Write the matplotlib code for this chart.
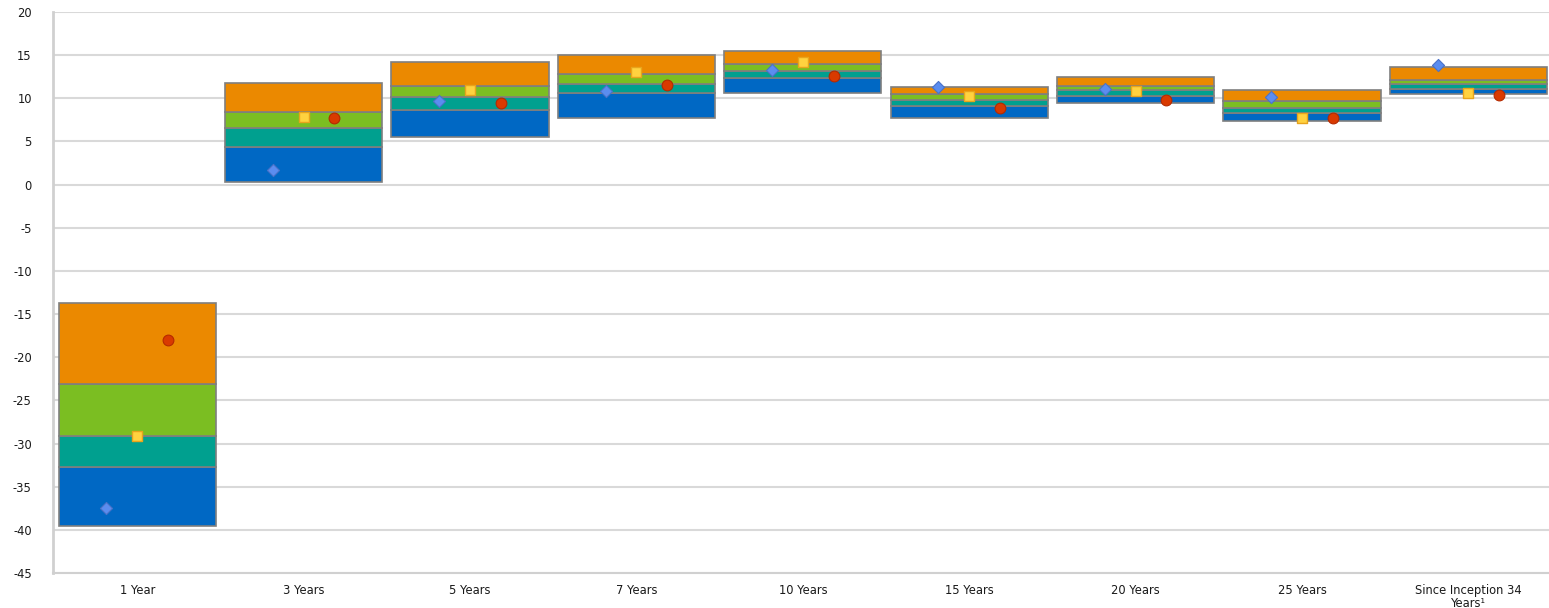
import numpy as np
from matplotlib import pyplot as plt

categories = ['1 Year', '3 Years', '5 Years', '7 Years', '10 Years',
              '15 Years', '20 Years', '25 Years', 'Since Inception 34\nYears\u00b9']

# quartile boundaries (bottom -> top)
q_bottom = [-39.6, 0.3, 5.55, 7.75, 10.6, 7.75, 9.4, 7.35, 10.45]
q_low = [-32.7, 4.4, 8.6, 10.6, 12.4, 9.1, 10.3, 8.25, 11.1]
q_mid = [-29.1, 6.5, 10.2, 11.7, 13.2, 9.8, 10.95, 8.9, 11.7]
q_high = [-23.1, 8.4, 11.4, 12.8, 14.0, 10.45, 11.4, 9.7, 12.1]
q_top = [-13.7, 11.8, 14.25, 15.0, 15.5, 11.35, 12.45, 10.95, 13.6]

# markers
diamond_vals = [-37.5, 1.7, 9.7, 10.9, 13.3, 11.3, 11.05, 10.2, 13.85]
square_vals = [-29.1, 7.8, 11.0, 13.0, 14.2, 10.3, 10.8, 7.7, 10.6]
circle_vals = [-18.0, 7.7, 9.45, 11.5, 12.6, 8.85, 9.8, 7.7, 10.4]

seg_colors = ['#0068C4', '#00A08F', '#7BBE22', '#EB8900']

plt.rcParams['font.family'] = ['DejaVu Sans']
plt.rcParams['axes.unicode_minus'] = False

fig = plt.figure(figsize=(15.49, 6.08), dpi=100)
ax = fig.add_axes([0.034, 0.0576, 0.966, 0.9227])

x = np.arange(len(categories))
bounds = [q_bottom, q_low, q_mid, q_high, q_top]
for k in range(4):
    lo = np.array(bounds[k])
    hi = np.array(bounds[k + 1])
    ax.bar(x, hi - lo, bottom=lo, width=0.945, color=seg_colors[k],
           edgecolor='#7f7f7f', linewidth=1.2, zorder=2)

off = 0.185
ax.scatter(x - off, diamond_vals, marker='D', s=38, color='#5B8DEF',
           edgecolors='#4A72C8', linewidths=0.8, zorder=4)
ax.scatter(x, square_vals, marker='s', s=55, color='#FFD23F',
           edgecolors='#E8A41C', linewidths=1.0, zorder=4)
ax.scatter(x + off, circle_vals, marker='o', s=60, color='#D93A00',
           edgecolors='#B52A00', linewidths=0.8, zorder=4)

ax.set_xlim(-0.508, 8.484)
ax.set_ylim(-45, 20)
ax.set_yticks(np.arange(-45, 21, 5))
ax.set_xticks(x)
ax.set_xticklabels(categories, fontsize=8.3, color='#1a1a1a', linespacing=1.0)
ax.tick_params(axis='y', labelsize=8.3, colors='#1a1a1a', length=0, pad=15)
ax.tick_params(axis='x', length=0, pad=8)

ax.yaxis.grid(True, color='#d9d9d9', linewidth=1.5, zorder=0)
ax.set_axisbelow(True)
for side in ['top', 'right']:
    ax.spines[side].set_visible(False)
ax.spines['left'].set_color('#d0d0d0')
ax.spines['left'].set_linewidth(2)
ax.spines['bottom'].set_color('#d0d0d0')
ax.spines['bottom'].set_linewidth(1.5)

fig.savefig('out.png', dpi=100)
